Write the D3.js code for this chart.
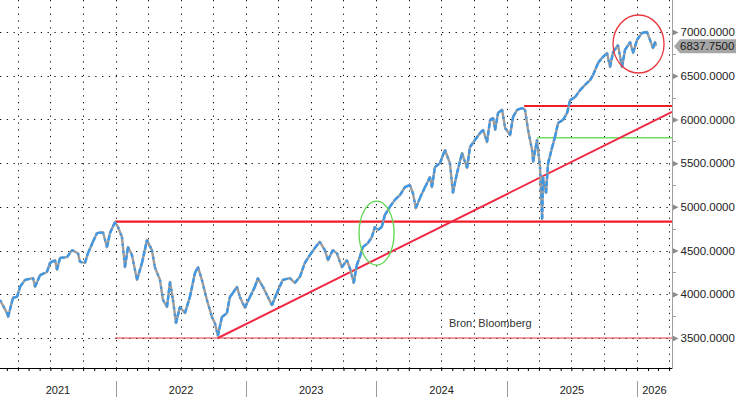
<!DOCTYPE html>
<html>
<head>
<meta charset="utf-8">
<script src="https://cdn.jsdelivr.net/npm/d3@7"></script>
<style>
  body { margin: 0; background: #fff; }
  svg { display: block; font-family: "Liberation Sans", Arial, sans-serif; }
</style>
</head>
<body>
<svg id="chart" width="736" height="397"></svg>
<script>
// S&P 500 future (time as decimal year, price in points)
const priceTime = [
  2021.109, 2021.163, 2021.171, 2021.209, 2021.240, 2021.263, 2021.301, 2021.363, 2021.378, 2021.417,
  2021.470, 2021.493, 2021.532, 2021.547, 2021.570, 2021.624, 2021.662, 2021.708, 2021.724, 2021.762,
  2021.785, 2021.823, 2021.854, 2021.900, 2021.931, 2021.954, 2021.992, 2022.015, 2022.046, 2022.069,
  2022.092, 2022.123, 2022.161, 2022.200, 2022.238, 2022.276, 2022.299, 2022.338, 2022.361, 2022.392,
  2022.415, 2022.438, 2022.461, 2022.491, 2022.530, 2022.568, 2022.607, 2022.630, 2022.660, 2022.699,
  2022.737, 2022.760, 2022.783, 2022.814, 2022.852, 2022.875, 2022.898, 2022.929, 2022.952, 2022.990,
  2023.029, 2023.067, 2023.090, 2023.129, 2023.167, 2023.198, 2023.236, 2023.282, 2023.336, 2023.374,
  2023.413, 2023.451, 2023.490, 2023.528, 2023.566, 2023.605, 2023.628, 2023.666, 2023.697, 2023.735,
  2023.774, 2023.797, 2023.827, 2023.850, 2023.873, 2023.896, 2023.935, 2023.966, 2023.989, 2024.012,
  2024.042, 2024.065, 2024.104, 2024.142, 2024.181, 2024.219, 2024.257, 2024.280, 2024.303, 2024.334,
  2024.373, 2024.411, 2024.426, 2024.449, 2024.488, 2024.526, 2024.564, 2024.587, 2024.618, 2024.657,
  2024.695, 2024.718, 2024.756, 2024.795, 2024.818, 2024.848, 2024.872, 2024.895, 2024.910, 2024.933,
  2024.964, 2024.987, 2025.025, 2025.048, 2025.079, 2025.117, 2025.140, 2025.163, 2025.194, 2025.202,
  2025.232, 2025.255, 2025.271, 2025.278, 2025.301, 2025.317, 2025.347, 2025.370, 2025.394, 2025.432,
  2025.463, 2025.486, 2025.524, 2025.563, 2025.601, 2025.640, 2025.663, 2025.701, 2025.732, 2025.770,
  2025.793, 2025.816, 2025.854, 2025.885, 2025.908, 2025.947, 2025.970, 2026.000, 2026.039, 2026.077,
  2026.100, 2026.123, 2026.138, 2026.146
];
const priceValue = [
  3935, 3785, 3740, 3960, 3970, 4085, 4165, 4185, 4085, 4220,
  4255, 4360, 4390, 4280, 4415, 4425, 4505, 4470, 4370, 4360,
  4470, 4600, 4700, 4710, 4540, 4700, 4825, 4770, 4655, 4310,
  4540, 4450, 4165, 4360, 4620, 4505, 4310, 4165, 3935, 3855,
  4140, 3935, 3670, 3855, 3785, 3970, 4245, 4310, 4165, 3935,
  3740, 3670, 3525, 3740, 3785, 3970, 4015, 4085, 3970, 3845,
  3970, 4085, 4185, 4085, 3970, 3875, 4015, 4165, 4185, 4130,
  4200, 4360, 4450, 4530, 4600, 4505, 4390, 4505, 4470, 4310,
  4390, 4300, 4130, 4335, 4425, 4540, 4585, 4655, 4770, 4735,
  4770, 4905, 5000, 5080, 5135, 5225, 5250, 5160, 4985, 5100,
  5225, 5340, 5225, 5455, 5500, 5650, 5500, 5160, 5385, 5615,
  5445, 5685, 5765, 5845, 5880, 5740, 5995, 6015, 5880, 6075,
  6110, 5900, 5820, 6030, 6110, 6130, 6110, 5880, 5650, 5515,
  5765, 5455, 4860, 5340, 5160, 5500, 5675, 5800, 5960, 5995,
  6075, 6220, 6255, 6335, 6395, 6450, 6510, 6645, 6705, 6760,
  6600, 6770, 6850, 6600, 6795, 6885, 6760, 6910, 6990, 7000,
  6910, 6815, 6885, 6838
];
const lastPrice = 6837.75;

// axis values
const yTicks = [3500, 4000, 4500, 5000, 5500, 6000, 6500, 7000];
const yMinorTicks = [3750, 4250, 4750, 5250, 5750, 6250, 6750];
const yearLabels = ["2021", "2022", "2023", "2024", "2025", "2026"];
const timeDomain = [2021.109, 2026.269];
const priceDomain = [3500, 7000];

// drawn analysis
const hLevels = [
  { from: 2021.992, price: 4830, color: "#f01c28", width: 2.2 },
  { from: 2021.992, price: 3500, color: "#d8383a", width: 1 },
  { from: 2025.133, price: 6154, color: "#f01c28", width: 2 },
  { from: 2025.232, price: 5791, color: "#6ee060", width: 1.6 }
];
const trendStart = [2022.783, 3500];
const trendEnd = [2026.269, 6087];
const greenMark = [2024.002, 4700];
const redMark = [2026.012, 6863];
const sourceText = "Bron: Bloomberg";

function toDate(t) {
  const yr = Math.floor(t);
  const a = new Date(yr, 0, 1), b = new Date(yr + 1, 0, 1);
  return new Date(+a + (t - yr) * (b - a));
}

const svg = d3.select("#chart");
const plotW = 672, plotH = 368;

const x = d3.scaleTime().domain(timeDomain.map(toDate)).range([0, plotW]);
const y = d3.scaleLinear().domain(priceDomain).range([338, 32]);

// grid
const grid = svg.append("g");
grid.selectAll("line.hg")
  .data(yTicks)
  .join("line")
    .attr("x1", 0).attr("x2", plotW)
    .attr("y1", d => Math.round(y(d)) + 0.5).attr("y2", d => Math.round(y(d)) + 0.5)
    .attr("stroke", "#111").attr("stroke-width", 1)
    .attr("stroke-dasharray", "1.3,5.5");
grid.selectAll("line.vg")
  .data(x.ticks(d3.timeMonth.every(3)))
  .join("line")
    .attr("x1", d => Math.round(x(d)) + 0.5).attr("x2", d => Math.round(x(d)) + 0.5)
    .attr("y1", 0).attr("y2", plotH)
    .attr("stroke", "#111").attr("stroke-width", 1)
    .attr("stroke-dasharray", "1.3,5.5");

// horizontal levels
svg.selectAll("line.level")
  .data(hLevels)
  .join("line")
    .attr("x1", d => x(toDate(d.from))).attr("x2", plotW)
    .attr("y1", d => y(d.price)).attr("y2", d => y(d.price))
    .attr("stroke", d => d.color).attr("stroke-width", d => d.width);

// trend line
svg.append("line")
  .attr("x1", x(toDate(trendStart[0]))).attr("y1", y(trendStart[1]))
  .attr("x2", x(toDate(trendEnd[0]))).attr("y2", y(trendEnd[1]))
  .attr("stroke", "#f02844").attr("stroke-width", 2);

// price: grey base, blue bars mixed in (mostly blue when rising, mostly grey when falling)
const pts = priceTime.map((t, i) => ({ d: toDate(t), v: priceValue[i] }));
const segs = d3.pairs(pts);
const price = svg.append("g");
price.append("path")
  .datum(pts)
  .attr("d", d3.line().x(d => x(d.d)).y(d => y(d.v)))
  .attr("fill", "none")
  .attr("stroke", "#9c9c9c")
  .attr("stroke-width", 2.4)
  .attr("stroke-linejoin", "round");
price.selectAll("line")
  .data(segs)
  .join("line")
    .attr("x1", d => x(d[0].d)).attr("y1", d => y(d[0].v))
    .attr("x2", d => x(d[1].d)).attr("y2", d => y(d[1].v))
    .attr("stroke", "#3e98e6")
    .attr("stroke-width", 2.4)
    .attr("stroke-dasharray", d => d[1].v >= d[0].v ? "5,2" : "2,5");

// marks
svg.append("ellipse")
  .attr("cx", x(toDate(greenMark[0]))).attr("cy", y(greenMark[1]))
  .attr("rx", 17.5).attr("ry", 32)
  .attr("fill", "none").attr("stroke", "#5cd84c").attr("stroke-width", 1.3);
svg.append("ellipse")
  .attr("cx", x(toDate(redMark[0]))).attr("cy", y(redMark[1]))
  .attr("rx", 25.5).attr("ry", 29)
  .attr("fill", "none").attr("stroke", "#e8383f").attr("stroke-width", 1.3);

// source
svg.append("text")
  .attr("x", 449).attr("y", 327)
  .attr("font-size", 11).attr("fill", "#333")
  .text(sourceText);

// bottom axis, monthly ticks
const xAxis = svg.append("g")
  .attr("transform", `translate(0,${plotH})`)
  .call(d3.axisBottom(x).ticks(d3.timeMonth.every(1)).tickSize(3).tickFormat(""));
xAxis.select(".domain").attr("stroke", "#000").attr("d", `M0,0.5H${plotW}`);
xAxis.selectAll(".tick line").attr("stroke", "#000");

// year separators and labels
const years = d3.range(2021, 2027);
svg.selectAll("line.ysep")
  .data(years.filter(yr => x(new Date(yr, 0, 1)) > 0))
  .join("line")
    .attr("x1", d => Math.round(x(new Date(d, 0, 1))) + 0.5)
    .attr("x2", d => Math.round(x(new Date(d, 0, 1))) + 0.5)
    .attr("y1", 381).attr("y2", 397)
    .attr("stroke", "#9a9a9a");
svg.selectAll("text.year")
  .data(years)
  .join("text")
    .attr("x", d => {
      const a = Math.max(0, x(new Date(d, 0, 1)));
      const b = Math.min(plotW, x(new Date(d + 1, 0, 1)));
      return (a + b) / 2;
    })
    .attr("y", 394)
    .attr("text-anchor", "middle")
    .attr("font-size", 11).attr("fill", "#222")
    .text((d, i) => yearLabels[i]);

// right axis
const yAxis = svg.append("g")
  .attr("transform", `translate(${plotW + 0.5},0)`)
  .call(d3.axisRight(y).tickValues(yTicks).tickSize(0).tickPadding(8).tickFormat(d3.format(".4f")));
yAxis.select(".domain").remove();
yAxis.selectAll("text").attr("font-size", 11.5).attr("fill", "#222").attr("font-family", "Liberation Sans, Arial, sans-serif");
yAxis.selectAll(".tick").append("path")
  .attr("d", "M0,-3L6,0L0,3Z").attr("fill", "#8a8a8a");
svg.append("line")
  .attr("x1", plotW + 0.5).attr("x2", plotW + 0.5)
  .attr("y1", 0).attr("y2", plotH + 1)
  .attr("stroke", "#a0a0a0");
svg.selectAll("line.minor")
  .data(yMinorTicks)
  .join("line")
    .attr("x1", plotW).attr("x2", plotW + 4)
    .attr("y1", d => Math.round(y(d)) + 0.5).attr("y2", d => Math.round(y(d)) + 0.5)
    .attr("stroke", "#a0a0a0");

// last price tag
const ly = y(lastPrice);
svg.append("path")
  .attr("d", `M${plotW + 2},${ly} L${plotW + 8},${ly - 7} H736 V${ly + 7} H${plotW + 8} Z`)
  .attr("fill", "#a6a6a6");
svg.append("text")
  .attr("x", plotW + 8).attr("y", ly + 4)
  .attr("font-size", 11.5).attr("fill", "#1a1a1a")
  .text(d3.format(".4f")(lastPrice));
</script>
</body>
</html>
